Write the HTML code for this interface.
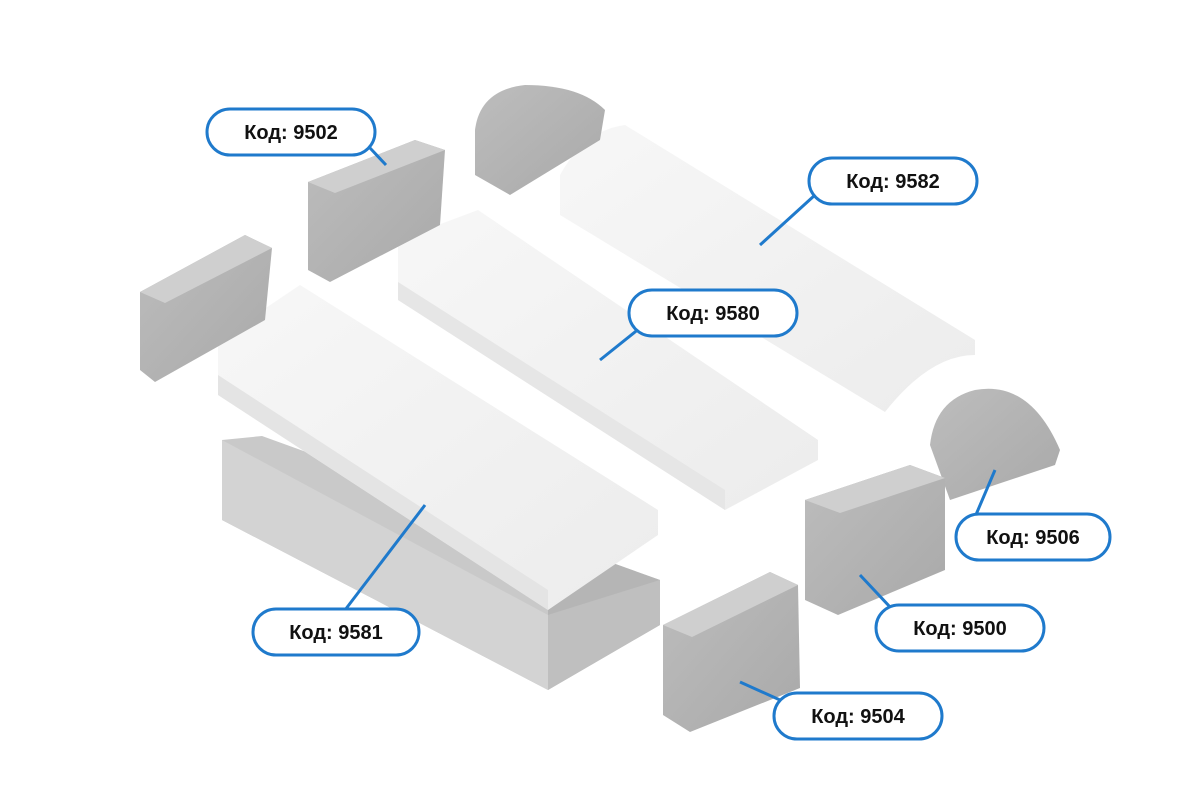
<!DOCTYPE html>
<html><head><meta charset="utf-8"><style>
html,body{margin:0;padding:0;background:#fff}
svg{display:block}
text{font-family:"Liberation Sans","DejaVu Sans",sans-serif;font-weight:bold;font-size:20px;fill:#111}
</style></head><body>
<svg width="1200" height="800" viewBox="0 0 1200 800" xmlns="http://www.w3.org/2000/svg">
<defs>
<linearGradient id="dif" x1="0" y1="0" x2="1" y2="1"><stop offset="0" stop-color="#f7f7f7"/><stop offset="1" stop-color="#ececec"/></linearGradient>
<linearGradient id="cap" x1="0" y1="0" x2="1" y2="1"><stop offset="0" stop-color="#bdbdbd"/><stop offset="1" stop-color="#a9a9a9"/></linearGradient>
</defs>
<!-- aluminium profile -->
<polygon points="222,440 262,436 660,580 660,625 548,690 222,520" fill="#c9c9c9"/>
<polygon points="222,440 548,615 548,690 222,520" fill="#d3d3d3"/>
<polygon points="548,615 660,580 660,625 548,690" fill="#bfbfbf"/>
<polygon points="548,540 660,580 548,615" fill="#b5b5b5"/>
<!-- diffuser 9581 -->
<polygon points="218,340 300,285 658,510 658,535 548,610 218,395" fill="url(#dif)"/>
<polygon points="218,395 548,610 548,590 218,375" fill="#e4e4e4"/>
<!-- diffuser 9580 -->
<polygon points="398,240 478,210 818,440 818,460 725,510 398,300" fill="url(#dif)"/>
<polygon points="398,300 725,510 725,490 398,282" fill="#e6e6e6"/>
<!-- diffuser 9582 -->
<path d="M560,175 Q585,130 625,125 L975,340 L975,355 Q930,355 885,412 L560,215 Z" fill="url(#dif)"/>
<!-- caps -->
<polygon points="308,182 415,140 445,150 440,225 330,282 308,270" fill="url(#cap)"/>
<polygon points="308,182 415,140 445,150 335,193" fill="#cfcfcf"/>
<polygon points="140,292 245,235 272,248 265,320 155,382 140,370" fill="url(#cap)"/>
<polygon points="140,292 245,235 272,248 165,303" fill="#cfcfcf"/>
<path d="M475,175 L475,130 Q480,90 525,85 Q580,85 605,110 L600,140 L510,195 Z" fill="url(#cap)"/>
<path d="M930,445 Q935,400 975,390 Q1030,380 1060,450 L1055,465 L950,500 Z" fill="url(#cap)"/>
<polygon points="805,500 910,465 945,478 945,570 838,615 805,600" fill="url(#cap)"/>
<polygon points="805,500 910,465 945,478 840,513" fill="#cfcfcf"/>
<polygon points="663,625 770,572 798,585 800,688 690,732 663,715" fill="url(#cap)"/>
<polygon points="663,625 770,572 798,585 692,637" fill="#cfcfcf"/>
<!-- leader lines -->
<g stroke="#1f7acc" stroke-width="3" fill="none">
<line x1="370" y1="148" x2="386" y2="165"/>
<line x1="815" y1="195" x2="760" y2="245"/>
<line x1="640" y1="328" x2="600" y2="360"/>
<line x1="975" y1="517" x2="995" y2="470"/>
<line x1="890" y1="607" x2="860" y2="575"/>
<line x1="345" y1="610" x2="425" y2="505"/>
<line x1="780" y1="700" x2="740" y2="682"/>
</g>
<g fill="#fff" stroke="#1f7acc" stroke-width="3">
<rect x="207" y="109" width="168" height="46" rx="23"/>
<rect x="809" y="158" width="168" height="46" rx="23"/>
<rect x="629" y="290" width="168" height="46" rx="23"/>
<rect x="956" y="514" width="154" height="46" rx="23"/>
<rect x="876" y="605" width="168" height="46" rx="23"/>
<rect x="253" y="609" width="166" height="46" rx="23"/>
<rect x="774" y="693" width="168" height="46" rx="23"/>
</g>
<g text-anchor="middle">
<text x="291" y="139">Код: 9502</text>
<text x="893" y="188">Код: 9582</text>
<text x="713" y="320">Код: 9580</text>
<text x="1033" y="544">Код: 9506</text>
<text x="960" y="635">Код: 9500</text>
<text x="336" y="639">Код: 9581</text>
<text x="858" y="723">Код: 9504</text>
</g>
</svg>
</body></html>
